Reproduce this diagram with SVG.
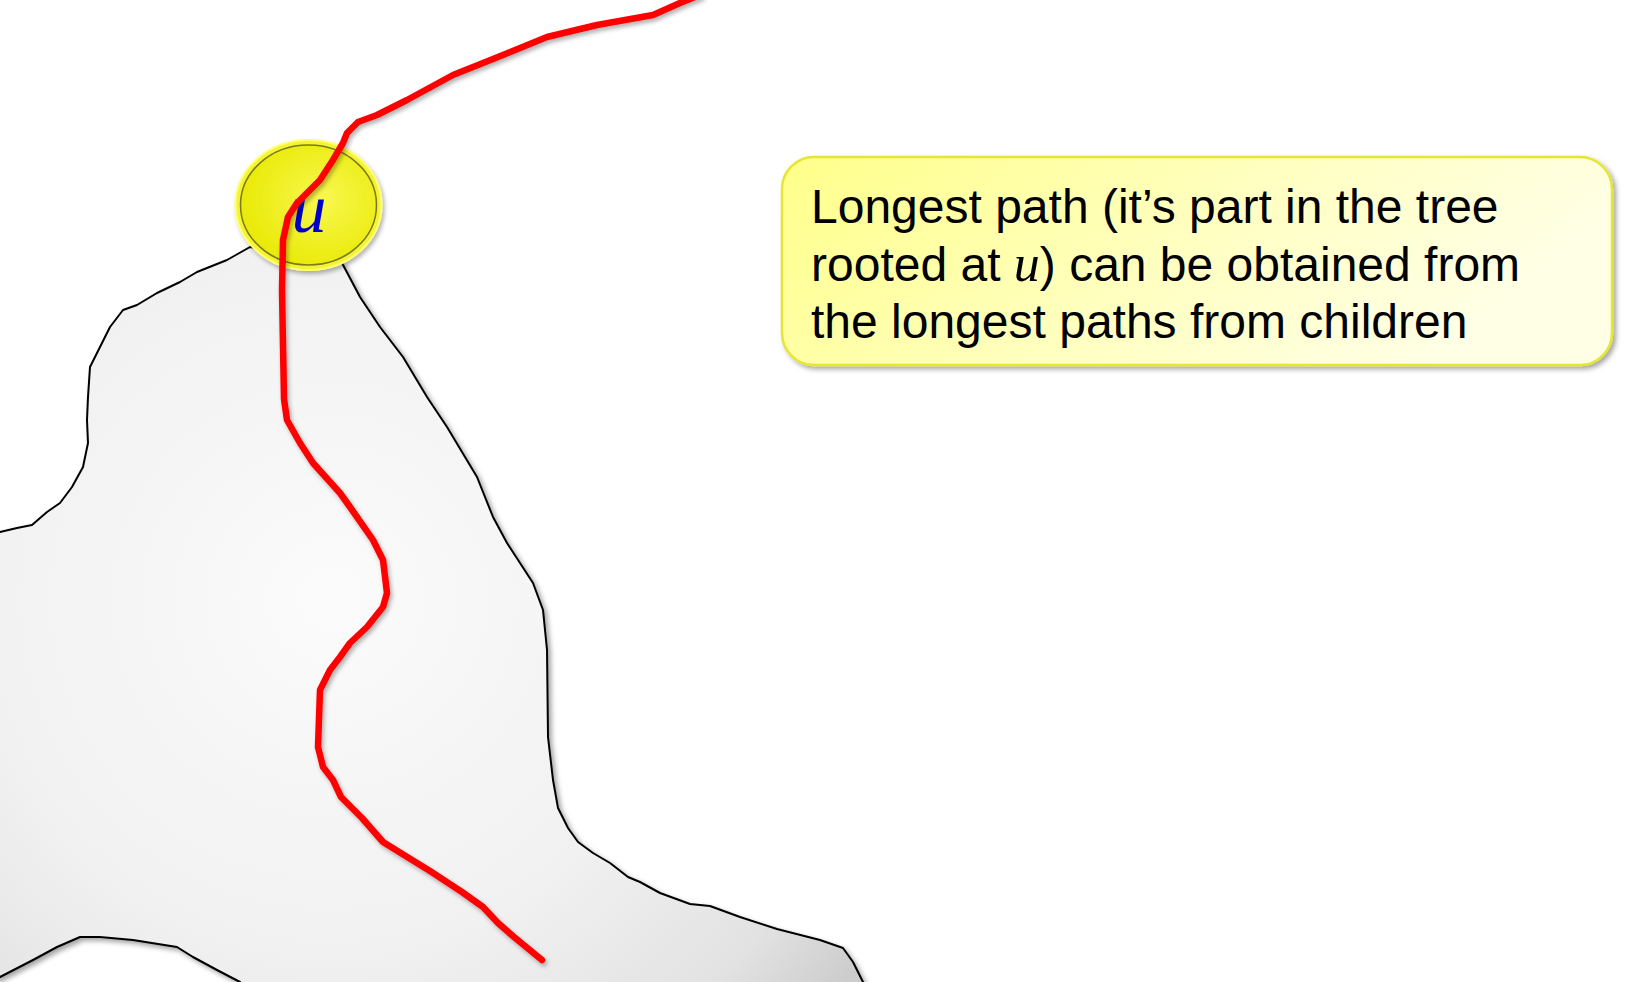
<svg xmlns="http://www.w3.org/2000/svg" width="1645" height="982" viewBox="0 0 1645 982">
  <defs>
    <radialGradient id="grayFill" gradientUnits="userSpaceOnUse" cx="330" cy="600" r="640">
      <stop offset="0" stop-color="#fbfbfb"/>
      <stop offset="0.55" stop-color="#f1f1f1"/>
      <stop offset="0.85" stop-color="#e2e2e2"/>
      <stop offset="1" stop-color="#cdcdcd"/>
    </radialGradient>
    <linearGradient id="calloutFill" x1="0" y1="0" x2="1" y2="0.3">
      <stop offset="0" stop-color="#ffff8a"/>
      <stop offset="0.6" stop-color="#ffffc4"/>
      <stop offset="1" stop-color="#ffffe6"/>
    </linearGradient>
    <radialGradient id="nodeFill" cx="0.6" cy="0.45" r="0.65">
      <stop offset="0" stop-color="#f8f850"/>
      <stop offset="1" stop-color="#e8e800"/>
    </radialGradient>
    <filter id="shadow" x="-10%" y="-10%" width="130%" height="130%">
      <feDropShadow dx="3" dy="3" stdDeviation="2.5" flood-color="#000" flood-opacity="0.35"/>
    </filter>
    <filter id="shadowSoft" x="-10%" y="-10%" width="130%" height="130%">
      <feDropShadow dx="2" dy="3" stdDeviation="2" flood-color="#000" flood-opacity="0.3"/>
    </filter>
    <style>
      .outline { fill: url(#grayFill); stroke: #000; stroke-width: 2; stroke-linejoin: round; }
      .path { fill: none; stroke: #ff0000; stroke-width: 6.5; stroke-linejoin: round; stroke-linecap: round; }
      .txt { font-family: "Liberation Sans", Arial, sans-serif; font-size: 48px; fill: #000; }
      .math { font-family: "Liberation Serif", "DejaVu Serif", serif; font-style: italic; }
    </style>
  </defs>

  <rect width="1645" height="982" fill="#ffffff"/>

  <g id="subtree">
    <path class="outline" filter="url(#shadow)" d="M -5,533 L 0,532 L 17,528 L 32,525 L 47,512 L 60,503 L 72,487 L 83,467 L 88,443 L 87,420 L 88,397 L 90,367 L 100,347 L 110,327 L 123,310 L 137,305 L 157,293 L 180,282 L 197,272 L 227,260 L 250,247 L 300,255 L 342,263 L 360,297 L 380,327 L 403,357 L 427,397 L 447,427 L 477,477 L 493,517 L 507,543 L 533,583 L 543,610 L 547,650 L 548,737 L 553,780 L 558,808 L 568,828 L 578,842 L 593,853 L 610,863 L 628,877 L 640,882 L 660,893 L 690,904 L 710,906 L 740,917 L 777,929 L 820,940 L 843,948 L 853,962 L 863,982 L 867,994 L 244,994 L 240,982 L 217,970 L 193,957 L 177,947 L 133,940 L 100,937 L 80,937 L 57,947 L 33,960 L 0,977 L -5,980 Z"/>
  </g>

  <g id="node-u" filter="url(#shadowSoft)">
    <ellipse cx="308.5" cy="205" rx="73" ry="65" fill="#f4f430" stroke="#ffff70" stroke-width="2"/>
    <ellipse cx="308.5" cy="205" rx="68" ry="60" fill="url(#nodeFill)" stroke="#7a7a20" stroke-width="1.5"/>
    <text x="309" y="232" text-anchor="middle" class="math" font-size="70" fill="#0000cc">u</text>
  </g>

  <g id="connectors">
    <polyline class="path" filter="url(#shadowSoft)" points="700,-5 680,3 653,15 597,25 547,37 503,55 453,75 407,100 377,115 358,122 347,133 343,143 333,160 320,180 297,203 288,217 283,240 282,290 283,346 284,399 287,420 300,443 313,463 340,493 350,507 373,540 383,560 387,593 383,607 367,627 350,643 340,657 330,670 320,690 318,747 323,767 333,780 341,797 362,818 383,842 404,855 430,871 462,892 483,907 498,923 514,937 542,960"/>
  </g>

  <g id="callout">
    <rect x="782" y="157" width="830" height="208" rx="32" ry="32" fill="url(#calloutFill)" stroke="#e6e630" stroke-width="2.5" filter="url(#shadow)"/>
    <text class="txt" x="811" y="223">Longest path (it’s part in the tree</text>
    <text class="txt" x="811" y="281">rooted at <tspan class="math" font-size="52">u</tspan>) can be obtained from</text>
    <text class="txt" x="811" y="338">the longest paths from children</text>
  </g>
</svg>
